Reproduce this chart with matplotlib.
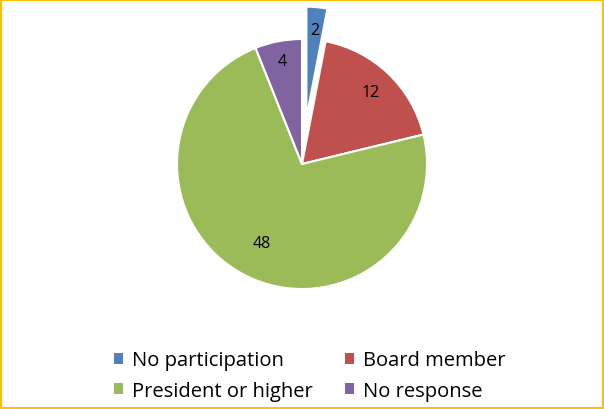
import numpy as np
import matplotlib.pyplot as plt
from matplotlib.patches import Rectangle, Patch

plt.rcParams['font.family'] = ['Open Sans', 'DejaVu Sans']

# Data
categories = ["No participation", "Board member", "President or higher", "No response"]
values = [2, 12, 48, 4]
colors = ["#4F81BD", "#C0504D", "#9BBB59", "#8064A2"]
explode = [0.37, 0, 0, 0]
label_dist = [0.71, 0.80, 0.71, 0.84]

W, H = 604, 410
fig = plt.figure(figsize=(W / 100, H / 100), dpi=100)

# Pie axes: center at (302, 165) px, radius 125 px
size = 270
ax = fig.add_axes([(302 - size / 2) / W, (H - 165 - size / 2) / H, size / W, size / H])
wedges, _ = ax.pie(values, colors=colors, explode=explode, startangle=90, counterclock=False,
                   wedgeprops=dict(edgecolor="white", linewidth=1.5))
# the exploded slice is drawn a bit smaller, like in the original
wedges[0].set_radius(0.89)
ax.set_xlim(-1.08, 1.08)
ax.set_ylim(-1.08, 1.08)
ax.set_aspect("equal")

# Value labels
for w, v, d, e in zip(wedges, values, label_dist, explode):
    ang = np.deg2rad((w.theta1 + w.theta2) / 2)
    r = d + e
    ax.text(r * np.cos(ang), r * np.sin(ang), str(v), ha="center", va="center", fontsize=11.5, color="black")

# Legend (row-major order: 2 columns)
order = [0, 2, 1, 3]
handles = [Patch(facecolor=colors[i], edgecolor="none") for i in order]
labels = [categories[i] for i in order]
fig.legend(handles, labels, loc="upper left", bbox_to_anchor=(114 / W, 1 - 351.5 / H), ncol=2,
           frameon=False, fontsize=14.5, handlelength=0.47, handleheight=0.47, handletextpad=0.42,
           columnspacing=1.6, labelspacing=0.52, borderpad=0, borderaxespad=0)

# Yellow chart border
fig.patches.append(Rectangle((0.002, 0.003), 0.996, 0.994, transform=fig.transFigure,
                             fill=False, edgecolor="#FFC000", linewidth=1.5))

fig.savefig("out.png", dpi=100)
